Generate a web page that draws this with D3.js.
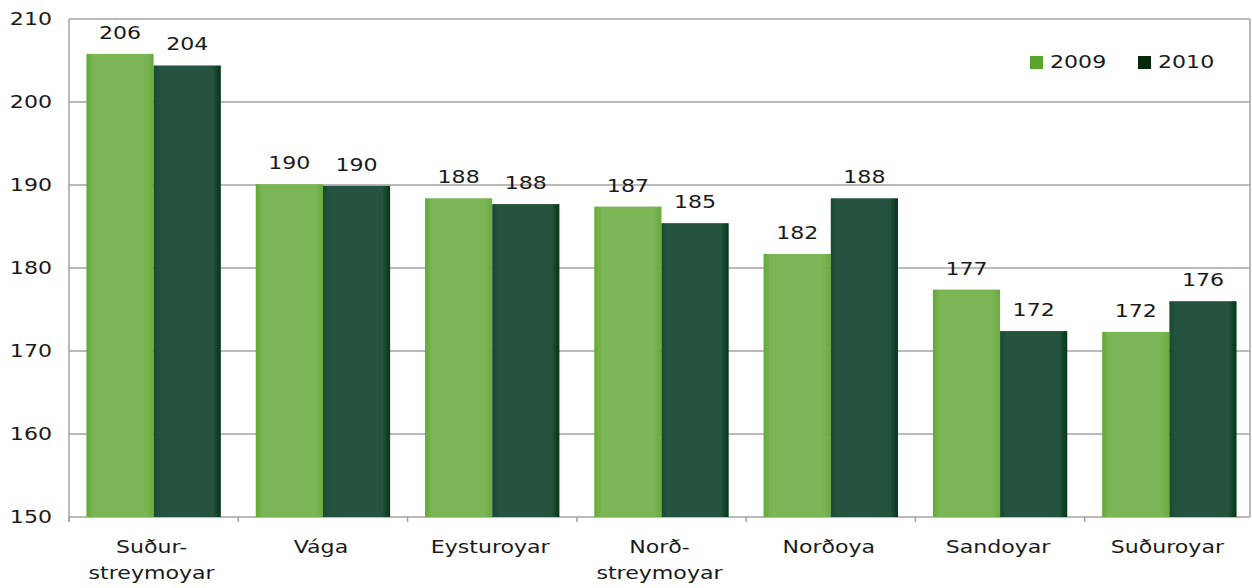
<!DOCTYPE html>
<html>
<head>
<meta charset="utf-8">
<script src="https://cdn.jsdelivr.net/npm/d3@7"></script>
<style>
  body { margin: 0; background: #fff; }
  svg { display: block; }
  text { font-family: "DejaVu Sans", Verdana, sans-serif; fill: #1a1a1a; }
</style>
</head>
<body>
<svg width="1252" height="588"></svg>
<script>
// categories, two lines each where the label wraps
const categories = ['Suður-|streymoyar', 'Vága', 'Eysturoyar', 'Norð-|streymoyar', 'Norðoya', 'Sandoyar', 'Suðuroyar'];
const series = ['2009', '2010'];
const values2009 = [205.8, 190.1, 188.4, 187.4, 181.7, 177.4, 172.3];
const values2010 = [204.4, 189.9, 187.7, 185.4, 188.4, 172.4, 176.0];
const yTicks = [150, 160, 170, 180, 190, 200, 210];

const rows = categories.map((c, i) => ({ cat: c, vals: [values2009[i], values2010[i]] }));

const svg = d3.select('svg');
const plotL = 69, plotR = 1254, plotT = 19, plotB = 517;
const sx = 1.3; // the text in the source is stretched sideways

const x0 = d3.scaleBand().domain(categories).range([plotL, plotR]).paddingInner(0).paddingOuter(0);
const x1 = d3.scaleBand().domain(series).range([0, x0.bandwidth()]).paddingInner(0).paddingOuter(0.26);
const y = d3.scaleLinear().domain([150, 210]).range([plotB, plotT]);

// gradients for the soft bar edges (darker at the sides)
const defs = svg.append('defs');
const grads = [
  { id: 'g2009', c: '#7bb556', l: '#62a932', r: '#6aac3e' },
  { id: 'g2010', c: '#25533f', l: '#1b4a33', r: '#023615' }
];
grads.forEach(g => {
  const lg = defs.append('linearGradient').attr('id', g.id)
    .attr('x1', 0).attr('x2', 1).attr('y1', 0).attr('y2', 0);
  lg.append('stop').attr('offset', 0).attr('stop-color', g.l);
  lg.append('stop').attr('offset', 0.1).attr('stop-color', g.c);
  lg.append('stop').attr('offset', 0.88).attr('stop-color', g.c);
  lg.append('stop').attr('offset', 1).attr('stop-color', g.r);
});

function txt(parent, x, yy, s, anchor, size) {
  return parent.append('text')
    .attr('transform', `translate(${x},${yy}) scale(${sx},1)`)
    .attr('text-anchor', anchor)
    .style('font-size', (size || 17) + 'px')
    .text(s);
}

// grid lines
svg.append('g').selectAll('line').data(yTicks).enter().append('line')
  .attr('x1', plotL).attr('x2', 1250)
  .attr('y1', d => y(d)).attr('y2', d => y(d))
  .attr('stroke', '#a3a3a3').attr('stroke-width', 1.5);

// right frame edge
svg.append('line').attr('x1', 1250).attr('x2', 1250).attr('y1', plotT).attr('y2', plotB)
  .attr('stroke', '#a3a3a3').attr('stroke-width', 1.5);

// bars
const groups = svg.append('g').selectAll('g').data(rows).enter().append('g')
  .attr('transform', d => `translate(${x0(d.cat)},0)`);

groups.selectAll('rect').data(d => d.vals.map((v, i) => ({ key: series[i], v: v })))
  .enter().append('rect')
  .attr('x', d => x1(d.key))
  .attr('width', x1.bandwidth())
  .attr('y', d => y(d.v))
  .attr('height', d => plotB - y(d.v))
  .attr('fill', d => `url(#g${d.key})`);

// value labels
groups.each(function(d) {
  const g = d3.select(this);
  d.vals.forEach((v, i) => {
    txt(g, x1(series[i]) + x1.bandwidth() / 2, y(v) - 15, Math.round(v), 'middle');
  });
});

// y axis line and labels
svg.append('line').attr('x1', plotL).attr('x2', plotL).attr('y1', plotT).attr('y2', plotB + 5)
  .attr('stroke', '#a3a3a3').attr('stroke-width', 1.5);
yTicks.forEach(t => {
  txt(svg, 52, y(t) + 6, t, 'end');
});

// x axis ticks
const bounds = categories.map(c => x0(c));
svg.append('g').selectAll('line').data(bounds).enter().append('line')
  .attr('x1', d => d).attr('x2', d => d)
  .attr('y1', plotB).attr('y2', plotB + 5)
  .attr('stroke', '#a3a3a3').attr('stroke-width', 1.5);

// category labels
categories.forEach(c => {
  const cx = x0(c) + x0.bandwidth() / 2 - 2;
  c.split('|').forEach((line, k) => {
    txt(svg, cx, 553 + k * 26, line, 'middle');
  });
});

// legend
const legend = [{ s: '2009', x: 1030, col: '#5aa52a' }, { s: '2010', x: 1138, col: '#03290c' }];
legend.forEach(l => {
  svg.append('rect').attr('x', l.x).attr('y', 56).attr('width', 13).attr('height', 13).attr('fill', l.col);
  txt(svg, l.x + 20, 68, l.s, 'start');
});
</script>
</body>
</html>
